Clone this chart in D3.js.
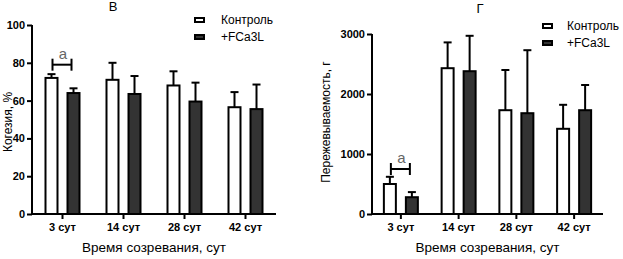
<!DOCTYPE html>
<html>
<head>
<meta charset="utf-8">
<script src="https://cdn.jsdelivr.net/npm/d3@7"></script>
<style>
  body { margin: 0; background: #fff; }
  svg { font-family: "Liberation Sans", Arial, sans-serif; }
</style>
</head>
<body>
<script>
// categories and series
var categories = ["3 сут", "14 сут", "28 сут", "42 сут"];
var seriesNames = ["Контроль", "+FCa3L"];

// cohesion, %
var cohControl    = [72, 71, 68, 56.5];
var cohControlErr = [2, 9, 7.5, 8];
var cohFca        = [64, 63.5, 59.5, 55.5];
var cohFcaErr     = [2.5, 9.5, 10, 13];
var cohTicks      = [0, 20, 40, 60, 80, 100];

// chewiness, g
var chewControl    = [500, 2430, 1730, 1420];
var chewControlErr = [120, 430, 670, 400];
var chewFca        = [280, 2380, 1680, 1730];
var chewFcaErr     = [85, 590, 1050, 420];
var chewTicks      = [0, 1000, 2000, 3000];

const W = 623, H = 259;

const svg = d3.select("body")
  .append("svg")
  .attr("width", W)
  .attr("height", H);

function drawChart(opt) {
  var g = svg.append("g");

  var x = d3.scaleBand()
    .domain(categories)
    .range([opt.left, opt.right])
    .paddingInner(0).paddingOuter(0);

  // position of the two bars inside a group
  var x1 = d3.scaleBand()
    .domain(seriesNames)
    .range([-18, 18])
    .paddingInner(0.364);

  var y = d3.scaleLinear()
    .domain([0, opt.max])
    .range([214, opt.top]);

  var rows = [];
  categories.forEach(function(c, i) {
    rows.push({cat: c, s: seriesNames[0], v: opt.control[i], e: opt.controlErr[i], fill: "#fff"});
    rows.push({cat: c, s: seriesNames[1], v: opt.fca[i], e: opt.fcaErr[i], fill: "#333"});
  });

  function cx(d) { return x(d.cat) + x.bandwidth() / 2; }

  // error bars (upper only)
  g.selectAll(".err").data(rows).enter()
    .append("line")
    .attr("x1", function(d) { return cx(d) + x1(d.s) + x1.bandwidth() / 2; })
    .attr("x2", function(d) { return cx(d) + x1(d.s) + x1.bandwidth() / 2; })
    .attr("y1", function(d) { return y(d.v); })
    .attr("y2", function(d) { return y(d.v + d.e); })
    .attr("stroke", "#000").attr("stroke-width", 2);

  g.selectAll(".cap").data(rows).enter()
    .append("line")
    .attr("x1", function(d) { return cx(d) + x1(d.s) + x1.bandwidth() / 2 - 4; })
    .attr("x2", function(d) { return cx(d) + x1(d.s) + x1.bandwidth() / 2 + 4; })
    .attr("y1", function(d) { return y(d.v + d.e); })
    .attr("y2", function(d) { return y(d.v + d.e); })
    .attr("stroke", "#000").attr("stroke-width", 2);

  // bars
  g.selectAll(".bar").data(rows).enter()
    .append("rect")
    .attr("x", function(d) { return cx(d) + x1(d.s) + 1; })
    .attr("width", x1.bandwidth() - 2)
    .attr("y", function(d) { return y(d.v); })
    .attr("height", function(d) { return y(0) - y(d.v); })
    .attr("fill", function(d) { return d.fill; })
    .attr("stroke", "#000").attr("stroke-width", 2);

  // significance bracket
  var c0 = x(categories[0]) + x.bandwidth() / 2;
  var bx1 = c0 + x1(seriesNames[0]) + x1.bandwidth() / 2 + 1;
  var bx2 = c0 + x1(seriesNames[1]) + x1.bandwidth() / 2 - 2;
  var by = y(opt.bracket);
  var br = g.append("g").attr("stroke", "#000").attr("stroke-width", 2);
  br.append("line").attr("x1", bx1).attr("x2", bx2).attr("y1", by).attr("y2", by);
  br.append("line").attr("x1", bx1).attr("x2", bx1).attr("y1", by - 6).attr("y2", by + 6);
  br.append("line").attr("x1", bx2).attr("x2", bx2).attr("y1", by - 6).attr("y2", by + 6);
  g.append("text")
    .attr("x", (bx1 + bx2) / 2 + 1)
    .attr("y", by - 6)
    .attr("text-anchor", "middle")
    .attr("font-size", 15)
    .attr("fill", "#666")
    .text("a");

  // axes
  var yAxis = g.append("g")
    .attr("transform", "translate(" + opt.left + ",0)")
    .call(d3.axisLeft(y).tickValues(opt.ticks).tickSize(5).tickPadding(2).tickFormat(d3.format("d")));
  var xAxis = g.append("g")
    .attr("transform", "translate(0," + y(0) + ")")
    .call(d3.axisBottom(x).tickSize(5).tickPadding(4));

  [yAxis, xAxis].forEach(function(a) {
    a.select(".domain").attr("stroke-width", 2).attr("stroke", "#000");
    a.selectAll(".tick line").attr("stroke-width", 2).attr("stroke", "#000");
    a.selectAll("text").attr("font-size", 11).attr("font-weight", "bold")
      .attr("font-family", "Liberation Sans, Arial, sans-serif").attr("fill", "#000");
  });
  yAxis.select(".domain").attr("d", "M0," + y(0) + "V" + opt.top);
  xAxis.select(".domain").attr("d", "M" + opt.left + ",0H" + opt.right);

  // titles
  g.append("text")
    .attr("x", opt.titleX).attr("y", opt.titleY)
    .attr("text-anchor", "middle").attr("font-size", 13)
    .text(opt.title);

  g.append("text")
    .attr("x", (opt.left + opt.right) / 2).attr("y", 252)
    .attr("text-anchor", "middle").attr("font-size", 13.5)
    .text("Время созревания, сут");

  g.append("text")
    .attr("transform", "translate(" + opt.yLabelX + "," + opt.yLabelY + ") rotate(-90)")
    .attr("text-anchor", "middle").attr("font-size", 12)
    .text(opt.yLabel);

  // legend
  var leg = g.selectAll(".leg").data(seriesNames).enter()
    .append("g")
    .attr("transform", function(d, i) { return "translate(" + opt.legX + "," + (opt.legY + i * 17) + ")"; });
  leg.append("rect")
    .attr("x", 1).attr("y", -4).attr("width", 9).attr("height", 4)
    .attr("fill", function(d, i) { return i ? "#333" : "#fff"; })
    .attr("stroke", "#000").attr("stroke-width", 2);
  leg.append("text")
    .attr("x", opt.legTextDx).attr("y", 2)
    .attr("font-size", 12)
    .text(function(d) { return d; });
}

drawChart({
  left: 32, right: 276, top: 25, max: 100, ticks: cohTicks,
  control: cohControl, controlErr: cohControlErr, fca: cohFca, fcaErr: cohFcaErr,
  bracket: 79, title: "В", titleX: 113, titleY: 11,
  yLabel: "Когезия, %", yLabelX: 12, yLabelY: 122,
  legX: 194, legY: 22, legTextDx: 27
});

drawChart({
  left: 372, right: 603, top: 34, max: 3000, ticks: chewTicks,
  control: chewControl, controlErr: chewControlErr, fca: chewFca, fcaErr: chewFcaErr,
  bracket: 750, title: "Г", titleX: 480, titleY: 13,
  yLabel: "Пережевываемость, г", yLabelX: 330, yLabelY: 122,
  legX: 542, legY: 28, legTextDx: 25
});
</script>
</body>
</html>
